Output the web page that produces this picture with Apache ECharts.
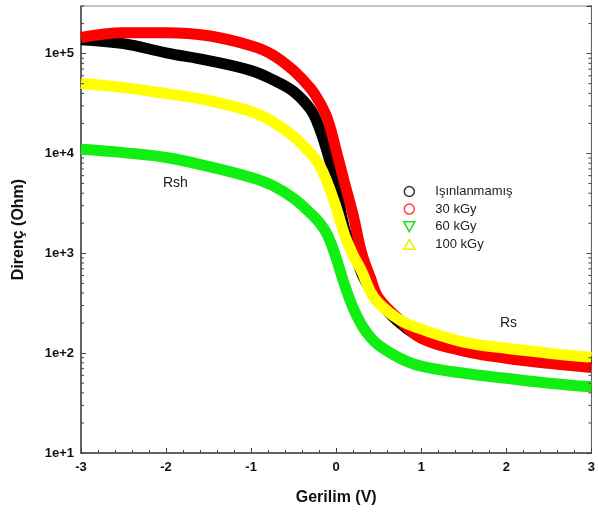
<!DOCTYPE html>
<html>
<head>
<meta charset="utf-8">
<script src="https://cdn.jsdelivr.net/npm/echarts@6/dist/echarts.min.js"></script>
<style>
  html, body { margin: 0; padding: 0; background: #fff; }
  #chart { width: 598px; height: 513px; }
</style>
</head>
<body>
<div id="chart"></div>
<script>
// voltage (V)
var voltage = [-3, -2.5, -2, -1.5, -1, -0.75, -0.5, -0.3, -0.2, -0.1, 0, 0.1, 0.2, 0.3, 0.4, 0.5, 0.75, 1, 1.5, 2, 2.5, 3];

// resistance (Ohm)
var rUnirradiated = [138000, 126000, 102000, 85100, 67600, 55000, 41700, 27500, 18200, 10000, 4790, 1740, 1120, 631, 437, 331, 200, 145, 115, 98, 89, 83];
var r30kGy = [145000, 162000, 162000, 151000, 120000, 97700, 67600, 44700, 33100, 21900, 10700, 5010, 2400, 1000, 575, 355, 214, 141, 105, 89, 79, 72];
var r60kGy = [11000, 10200, 9120, 7410, 5750, 4790, 3550, 2510, 2040, 1510, 891, 479, 282, 191, 145, 120, 89, 74, 63, 56, 50, 46];
var r100kGy = [50100, 45700, 39800, 33900, 26300, 20900, 14800, 10000, 7760, 5010, 2880, 1510, 955, 661, 417, 316, 214, 174, 129, 112, 100, 91];

var seriesNames = ['Işınlanmamış', '30 kGy', '60 kGy', '100 kGy'];
var seriesColors = ['#000000', '#ff0000', '#11ee11', '#ffff00'];

// minor ticks of the log axis: 2..9 x 10^k
var minorTicks = [];
for (var k = 1; k <= 5; k++) {
    for (var m = 2; m <= 9; m++) {
        var t = m * Math.pow(10, k);
        if (t <= 300000) minorTicks.push([0, t]);
    }
}

function pairs(ys) {
    return voltage.map(function (x, i) { return [x, ys[i]]; });
}

var font = 'Liberation Sans, Arial, sans-serif';

var curveData = [rUnirradiated, r30kGy, r60kGy, r100kGy];
// drawing order: black, red, green, yellow on top
var series = curveData.map(function (d, i) {
    return {
        name: seriesNames[i],
        type: 'line',
        data: pairs(d),
        smooth: 0.4,
        showSymbol: false,
        symbol: 'none',
        lineStyle: { color: seriesColors[i], width: 11 },
        itemStyle: { color: seriesColors[i] },
        z: 2 + i
    };
});

series.push({
    type: 'custom',
    silent: true,
    z: 10,
    data: minorTicks,
    renderItem: function (params, api) {
        var v = api.value(1);
        var l = api.coord([-3, v]);
        var r = api.coord([3, v]);
        return {
            type: 'group',
            children: [
                { type: 'line', shape: { x1: l[0], y1: l[1], x2: l[0] + 3, y2: l[1] }, style: { stroke: '#444', lineWidth: 1 } },
                { type: 'line', shape: { x1: r[0], y1: r[1], x2: r[0] - 3, y2: r[1] }, style: { stroke: '#444', lineWidth: 1 } }
            ]
        };
    }
});

function legendItem(name, icon, color) {
    return { name: name, icon: icon, itemStyle: { color: 'transparent', borderColor: color, borderWidth: 1.5 } };
}

var chart = echarts.init(document.getElementById('chart'));
chart.setOption({
    animation: false,
    backgroundColor: '#fff',
    grid: { left: 81, right: 1, top: 6, bottom: 60, show: true, borderColor: '#888', borderWidth: 1 },
    legend: {
        orient: 'vertical',
        left: 398,
        top: 180,
        itemWidth: 22,
        itemHeight: 10,
        itemGap: 4.6,
        symbolKeepAspect: true,
        textStyle: { fontFamily: font, fontSize: 13, color: '#222', padding: [0, 0, 0, 10] },
        data: [
            legendItem(seriesNames[0], 'circle', '#333'),
            legendItem(seriesNames[1], 'circle', '#ff4444'),
            legendItem(seriesNames[2], 'path://M0,0L10,0L5,9Z', '#22dd22'),
            legendItem(seriesNames[3], 'path://M5,0L10,9L0,9Z', '#eeee00')
        ]
    },
    xAxis: {
        type: 'value',
        min: -3,
        max: 3,
        interval: 1,
        name: 'Gerilim (V)',
        nameLocation: 'middle',
        nameGap: 37,
        nameTextStyle: { fontFamily: font, fontSize: 16, fontWeight: 'bold', color: '#111' },
        axisLine: { onZero: false, lineStyle: { color: '#444', width: 1.5 } },
        axisTick: { inside: true, length: 5, lineStyle: { color: '#444' } },
        minorTick: { show: true, splitNumber: 5, length: 3, lineStyle: { color: '#444' } },
        axisLabel: { fontFamily: font, fontSize: 13, fontWeight: 'bold', color: '#111', margin: 8 },
        splitLine: { show: false }
    },
    yAxis: [{
        type: 'log',
        logBase: 10,
        min: 10,
        max: 300000,
        name: 'Direnç (Ohm)',
        nameLocation: 'middle',
        nameGap: 54,
        nameTextStyle: { fontFamily: font, fontSize: 16, fontWeight: 'bold', color: '#111' },
        axisLine: { show: true, onZero: false, lineStyle: { color: '#444', width: 1.5 } },
        axisTick: { inside: true, length: 5, lineStyle: { color: '#444' } },
        axisLabel: {
            fontFamily: font, fontSize: 13, fontWeight: 'bold', color: '#111', margin: 7,
            showMaxLabel: false,
            formatter: function (v) {
                var e = Math.round(Math.log10(v));
                return Math.abs(Math.log10(v) - e) < 1e-6 ? '1e+' + e : '';
            }
        },
        splitLine: { show: false }
    }, {
        type: 'log',
        logBase: 10,
        min: 10,
        max: 300000,
        position: 'right',
        axisLine: { show: true, onZero: false, lineStyle: { color: '#666', width: 1 } },
        axisTick: { inside: true, length: 5, lineStyle: { color: '#444' } },
        axisLabel: { show: false },
        splitLine: { show: false }
    }],
    graphic: [
        { type: 'text', left: 163, top: 176, style: { text: 'Rsh', font: '14px ' + font, fill: '#222' } },
        { type: 'text', left: 500, top: 316, style: { text: 'Rs', font: '14px ' + font, fill: '#222' } }
    ],
    series: series
});
</script>
</body>
</html>
